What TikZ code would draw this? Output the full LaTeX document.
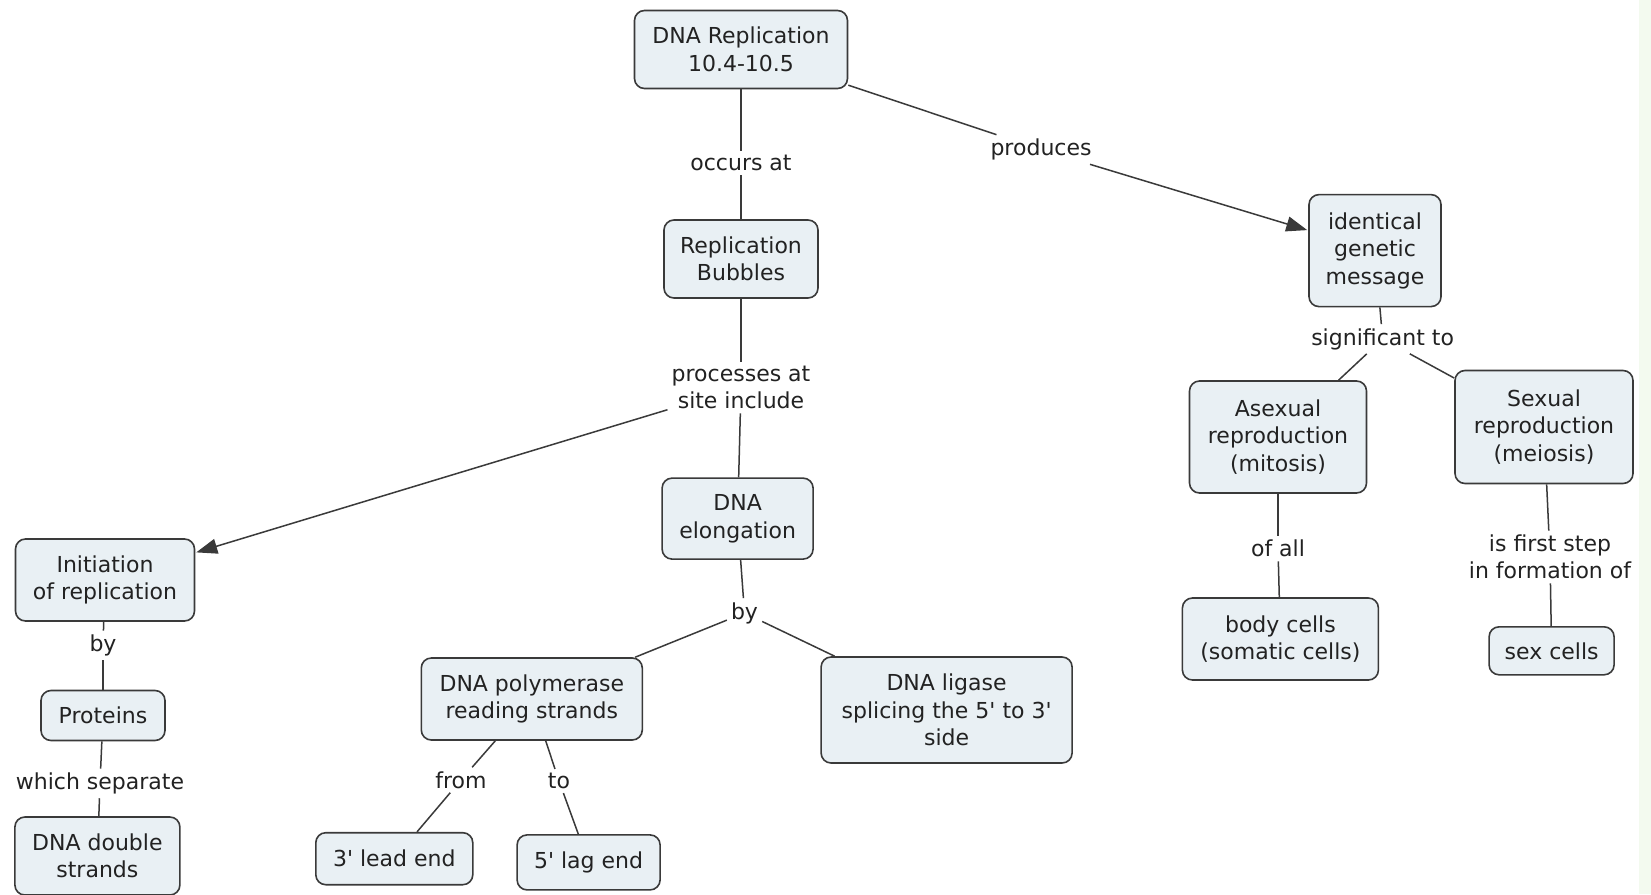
\documentclass[tikz,border=0pt]{standalone}
\usepackage{fontspec}
\setmainfont{DejaVu Sans}[Ligatures=TeXOff]
\usetikzlibrary{arrows.meta}
\definecolor{boxfill}{HTML}{E9F0F4}
\definecolor{boxline}{HTML}{3A3A3A}
\definecolor{txt}{HTML}{222222}
\definecolor{edgegreen}{HTML}{F3FAEF}
\tikzset{
  concept/.style={draw=boxline, line width=1.6pt, fill=boxfill, rounded corners=10pt,
    align=center, text=txt, font=\fontsize{22pt}{27.5pt}\selectfont, inner sep=0pt},
  linkword/.style={align=center, text=txt, font=\fontsize{22pt}{27.5pt}\selectfont, inner sep=4pt},
  conn/.style={line width=1.5pt, draw=boxline},
  arr/.style={conn, -{Triangle[length=21pt,width=15pt]}, shorten >=1pt}
}
\begin{document}
\begin{tikzpicture}[x=1pt,y=1pt]
\useasboundingbox (0,0) rectangle (1651,-894);
\fill[white] (0,0) rectangle (1651,-894);
\fill[edgegreen] (1639,0) rectangle (1651,-894);

% concepts
\node[concept, minimum width=213pt, minimum height=78pt] (rep) at (741,-49.5) {DNA Replication\\10.4-10.5};
\node[concept, minimum width=154pt, minimum height=78pt] (bub) at (741,-259) {Replication\\Bubbles};
\node[concept, minimum width=132pt, minimum height=112pt] (ide) at (1375,-250.6) {identical\\genetic\\message};
\node[concept, minimum width=179pt, minimum height=82pt] (ini) at (105,-580) {Initiation\\of replication};
\node[concept, minimum width=151pt, minimum height=81pt] (elo) at (737.6,-518.6) {DNA\\elongation};
\node[concept, minimum width=124pt, minimum height=50pt] (pro) at (103,-715.5) {Proteins};
\node[concept, minimum width=165pt, minimum height=78pt] (dbl) at (97.4,-856) {DNA double\\strands};
\node[concept, minimum width=221pt, minimum height=82pt] (pol) at (531.8,-699) {DNA polymerase\\reading strands};
\node[concept, minimum width=251pt, minimum height=106pt] (lig) at (946.6,-710) {DNA ligase\\splicing the 5' to 3'\\side};
\node[concept, minimum width=157pt, minimum height=52pt] (lead) at (394.3,-858.7) {3' lead end};
\node[concept, minimum width=143pt, minimum height=55pt] (lag) at (588.6,-862.4) {5' lag end};
\node[concept, minimum width=177pt, minimum height=112pt] (asx) at (1278,-437) {Asexual\\reproduction\\(mitosis)};
\node[concept, minimum width=178pt, minimum height=113pt] (sxr) at (1544,-427) {Sexual\\reproduction\\(meiosis)};
\node[concept, minimum width=196pt, minimum height=82pt] (body) at (1280.4,-639) {body cells\\(somatic cells)};
\node[concept, minimum width=125pt, minimum height=48pt] (sex) at (1551.6,-650.8) {sex cells};

% linking words
\node[linkword] (occ) at (741,-163) {occurs at};
\node[linkword] (prd) at (1041,-149.5) {produces};
\node[linkword] (prc) at (741,-387.5) {processes at\\site include};
\node[linkword] (sig) at (1382.6,-339) {significant to};
\node[linkword] (ofa) at (1278,-548.6) {of all};
\node[linkword] (ifs) at (1550,-557) {is first step\\in formation of};
\node[linkword] (by1) at (744.5,-613) {by};
\node[linkword] (frm) at (461,-780) {from};
\node[linkword] (too) at (559,-781) {to};
\node[linkword] (by2) at (103,-645.5) {by};
\node[linkword] (whs) at (100,-783.4) {which separate};

% connectors
\draw[conn] (rep) -- (occ);
\draw[conn] (occ) -- (bub);
\draw[conn] (rep) -- (prd);
\draw[arr] (prd) -- (ide);
\draw[conn] (bub) -- (prc);
\draw[arr] (prc) -- (ini);
\draw[conn] (prc) -- (elo);
\draw[conn] (elo) -- (by1);
\draw[conn] (by1) -- (pol);
\draw[conn] (by1) -- (lig);
\draw[conn] (pol) -- (frm);
\draw[conn] (frm) -- (lead);
\draw[conn] (pol) -- (too);
\draw[conn] (too) -- (lag);
\draw[conn] (ini) -- (by2);
\draw[conn] (by2) -- (pro);
\draw[conn] (pro) -- (whs);
\draw[conn] (whs) -- (dbl);
\draw[conn] (ide) -- (sig);
\draw[conn] (sig) -- (asx);
\draw[conn] (sig) -- (sxr);
\draw[conn] (asx) -- (ofa);
\draw[conn] (ofa) -- (body);
\draw[conn] (sxr) -- (ifs);
\draw[conn] (ifs) -- (sex);
\end{tikzpicture}
\end{document}
